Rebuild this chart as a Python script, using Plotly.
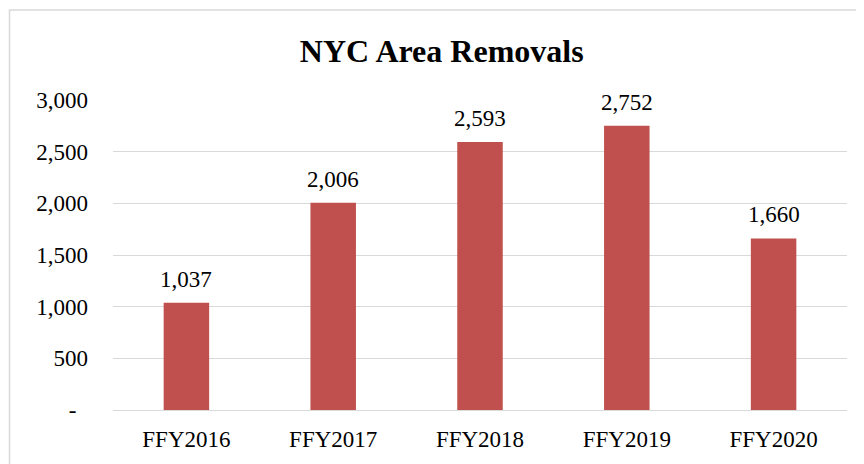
import plotly.graph_objects as go

# data
years = ["FFY2016", "FFY2017", "FFY2018", "FFY2019", "FFY2020"]
removals = [1037, 2006, 2593, 2752, 1660]
y_ticks = [0, 500, 1000, 1500, 2000, 2500, 3000]
y_tick_text = ["-\u00a0\u00a0", "500", "1,000", "1,500", "2,000", "2,500", "3,000"]

bar_color = "#C0504D"
grid_color = "#D9D9D9"
font_family = "Liberation Serif, Times New Roman, serif"

fig = go.Figure()

fig.add_trace(
    go.Bar(
        x=years,
        y=removals,
        marker=dict(color=bar_color, line=dict(width=0)),
        width=0.31,
        hoverinfo="x+y"
    )
)

# data labels above bars
for yr, val in zip(years, removals):
    fig.add_annotation(
        x=yr,
        y=val,
        text=f"{val:,}",
        showarrow=False,
        yanchor="bottom",
        yshift=9,
        font=dict(family=font_family, size=23, color="#000000")
    )

# chart area border
fig.add_shape(
    type="rect",
    xref="paper",
    yref="paper",
    x0=-0.141,
    x1=1.04,
    y0=-0.2,
    y1=1.29,
    line=dict(color="#D9D9D9", width=1.5),
    layer="below"
)

fig.update_layout(
    width=864,
    height=464,
    paper_bgcolor="white",
    plot_bgcolor="white",
    showlegend=False,
    margin=dict(l=105, r=25, t=92, b=62),
    font=dict(family=font_family, size=23, color="#000000"),
    title=dict(
        text="<b>NYC Area Removals</b>",
        x=0.502,
        xref="container",
        xanchor="center",
        y=0.908,
        yref="container",
        yanchor="middle",
        font=dict(family=font_family, size=32, color="#000000")
    )
)

fig.update_yaxes(
    range=[0, 3000],
    tickvals=y_ticks,
    ticktext=y_tick_text,
    showgrid=True,
    gridcolor=grid_color,
    gridwidth=1.3,
    zeroline=False,
    showline=False,
    ticks="",
    automargin=False,
    ticklabelstandoff=24,
    tickfont=dict(family=font_family, size=23)
)

fig.update_xaxes(
    showgrid=False,
    showline=True,
    linecolor=grid_color,
    linewidth=1.3,
    ticks="",
    automargin=False,
    ticklabelstandoff=8,
    tickfont=dict(family=font_family, size=23)
)

fig.write_html("out.html")
